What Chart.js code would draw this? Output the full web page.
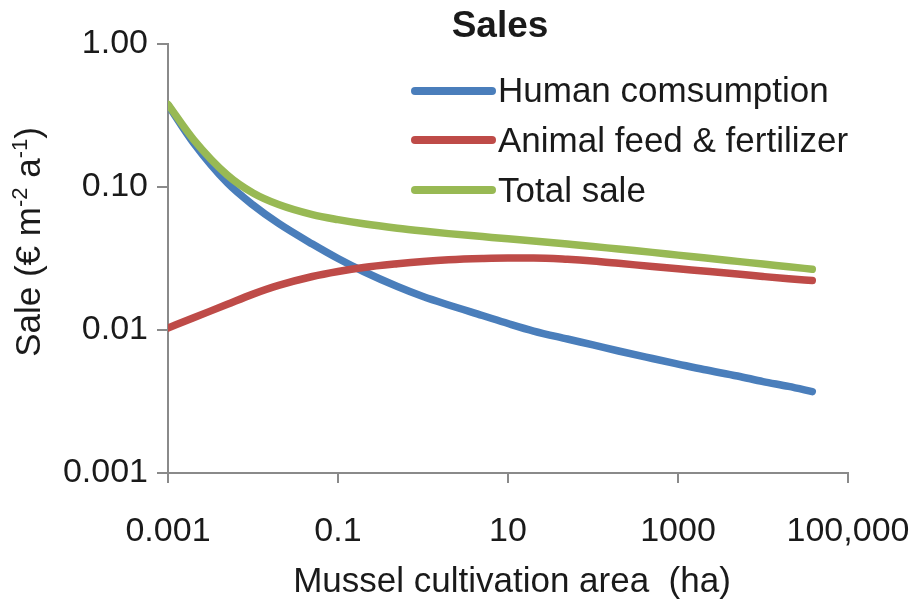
<!DOCTYPE html>
<html>
<head>
<meta charset="utf-8">
<script src="https://cdn.jsdelivr.net/npm/chart.js@4.4.1/dist/chart.umd.min.js"></script>
<style>
  html, body { margin: 0; padding: 0; background: #ffffff; }
  #wrap { width: 920px; height: 603px; }
</style>
</head>
<body>
<div id="wrap"><canvas id="c" width="920" height="603"></canvas></div>
<script>
// ---- Data ----
const areaHa = [0.001, 0.002, 0.005, 0.01, 0.02, 0.05, 0.1, 0.2, 0.5, 1, 2, 5, 10, 20, 50, 100, 200, 500, 1000, 2000, 5000, 10000, 20000, 38000];
const humanConsumption = [0.3745, 0.2031, 0.1067, 0.0748, 0.0556, 0.0399, 0.0316, 0.02565, 0.02014, 0.01715, 0.01496, 0.01263, 0.0111, 0.00984, 0.00865, 0.00786, 0.00713, 0.00632, 0.00578, 0.00529, 0.00477, 0.00436, 0.00403, 0.00371];
const animalFeed = [0.01033, 0.01217, 0.01513, 0.01782, 0.0205, 0.02366, 0.02565, 0.02736, 0.02904, 0.03013, 0.03097, 0.03162, 0.03188, 0.03188, 0.03122, 0.03038, 0.02927, 0.0278, 0.02679, 0.02586, 0.02464, 0.02366, 0.0228, 0.02219];
const totalSale = [0.378, 0.2146, 0.1211, 0.0908, 0.0754, 0.0641, 0.0591, 0.0553, 0.0515, 0.0492, 0.0472, 0.045, 0.0434, 0.0419, 0.0399, 0.0384, 0.0368, 0.0349, 0.0334, 0.032, 0.0302, 0.0289, 0.0277, 0.0266];

const seriesLabels = ["Human comsumption", "Animal feed & fertilizer", "Total sale"];
const seriesColors = ["#4A7EBB", "#BE4B48", "#98B954"];

const xTickValues = [0.001, 0.1, 10, 1000, 100000];
const xTickLabels = ["0.001", "0.1", "10", "1000", "100,000"];
const yTickValues = [0.001, 0.01, 0.1, 1];
const yTickLabels = ["0.001", "0.01", "0.10", "1.00"];

const chartTitle = "Sales";
const xTitle = "Mussel cultivation area  (ha)";

const FONT = "'Liberation Sans', Arial, Helvetica, sans-serif";
const AXIS_GRAY = "#8a8a8a";
const TEXT = "#1a1a1a";

function pts(ys) { return areaHa.map((x, i) => ({ x: x, y: ys[i] })); }

const seriesData = [humanConsumption, animalFeed, totalSale];
const drawOrder = [3, 2, 1];
const datasets = seriesData.map((ys, i) => ({
  label: seriesLabels[i],
  data: pts(ys),
  borderColor: seriesColors[i],
  backgroundColor: seriesColors[i],
  borderWidth: 7.5,
  borderCapStyle: 'round',
  borderJoinStyle: 'round',
  pointRadius: 0,
  fill: false,
  cubicInterpolationMode: 'monotone',
  order: drawOrder[i]
}));

const decorPlugin = {
  id: 'decor',
  afterDraw(chart) {
    const ctx = chart.ctx;
    ctx.save();
    ctx.fillStyle = TEXT;
    // Title
    ctx.font = "bold 37px " + FONT;
    ctx.textAlign = 'center';
    ctx.textBaseline = 'alphabetic';
    ctx.fillText(chartTitle, 500, 37);

    // Legend
    const legY = [102, 152, 202];
    const lineY = [91, 140, 190];
    ctx.font = "35px " + FONT;
    ctx.textAlign = 'left';
    for (let i = 0; i < seriesLabels.length; i++) {
      ctx.strokeStyle = seriesColors[i];
      ctx.lineWidth = 8;
      ctx.lineCap = 'round';
      ctx.beginPath();
      ctx.moveTo(415, lineY[i]);
      ctx.lineTo(492, lineY[i]);
      ctx.stroke();
      ctx.fillText(seriesLabels[i], 498, legY[i]);
    }

    // X axis title
    ctx.font = "35px " + FONT;
    ctx.textAlign = 'center';
    ctx.fillText(xTitle, 512, 592);

    // Y axis title with superscripts
    ctx.translate(40, 242);
    ctx.rotate(-Math.PI / 2);
    const parts = [
      { t: "Sale (€ m", sup: false },
      { t: "-2", sup: true },
      { t: " a", sup: false },
      { t: "-1", sup: true },
      { t: ")", sup: false }
    ];
    const mainF = "35px " + FONT, supF = "22px " + FONT;
    let total = 0;
    parts.forEach(p => { ctx.font = p.sup ? supF : mainF; total += ctx.measureText(p.t).width; });
    let x = -total / 2;
    ctx.textAlign = 'left';
    parts.forEach(p => {
      ctx.font = p.sup ? supF : mainF;
      ctx.fillText(p.t, x, p.sup ? -13 : 0);
      x += ctx.measureText(p.t).width;
    });
    ctx.restore();
  }
};

new Chart(document.getElementById('c'), {
  type: 'line',
  data: { datasets: datasets },
  options: {
    responsive: false,
    animation: false,
    devicePixelRatio: 1,
    layout: { padding: { top: 44, right: 72, left: 0, bottom: 0 } },
    plugins: {
      legend: { display: false },
      title: { display: false },
      tooltip: { enabled: false }
    },
    scales: {
      x: {
        type: 'logarithmic',
        min: 0.001,
        max: 100000,
        afterBuildTicks(scale) { scale.ticks = xTickValues.map(v => ({ value: v, major: true })); },
        afterFit(scale) { scale.height = 130; scale.paddingLeft = 0; scale.paddingRight = 0; },
        ticks: {
          autoSkip: false,
          maxRotation: 0,
          padding: 28,
          color: TEXT,
          font: { family: FONT, size: 34 },
          callback(value) { const i = xTickValues.indexOf(value); return i >= 0 ? xTickLabels[i] : ''; }
        },
        grid: { display: true, drawOnChartArea: false, drawTicks: true, tickLength: 10, color: AXIS_GRAY, lineWidth: 2 },
        border: { display: true, color: AXIS_GRAY, width: 2 }
      },
      y: {
        type: 'logarithmic',
        min: 0.001,
        max: 1,
        afterBuildTicks(scale) { scale.ticks = yTickValues.map(v => ({ value: v, major: true })); },
        afterFit(scale) { scale.width = 168; scale.paddingTop = 0; scale.paddingBottom = 0; },
        ticks: {
          autoSkip: false,
          padding: 9,
          color: TEXT,
          font: { family: FONT, size: 34 },
          callback(value) { const i = yTickValues.indexOf(value); return i >= 0 ? yTickLabels[i] : ''; }
        },
        grid: { display: true, drawOnChartArea: false, drawTicks: true, tickLength: 11, color: AXIS_GRAY, lineWidth: 2 },
        border: { display: true, color: AXIS_GRAY, width: 2 }
      }
    }
  },
  plugins: [decorPlugin]
});
</script>
</body>
</html>
